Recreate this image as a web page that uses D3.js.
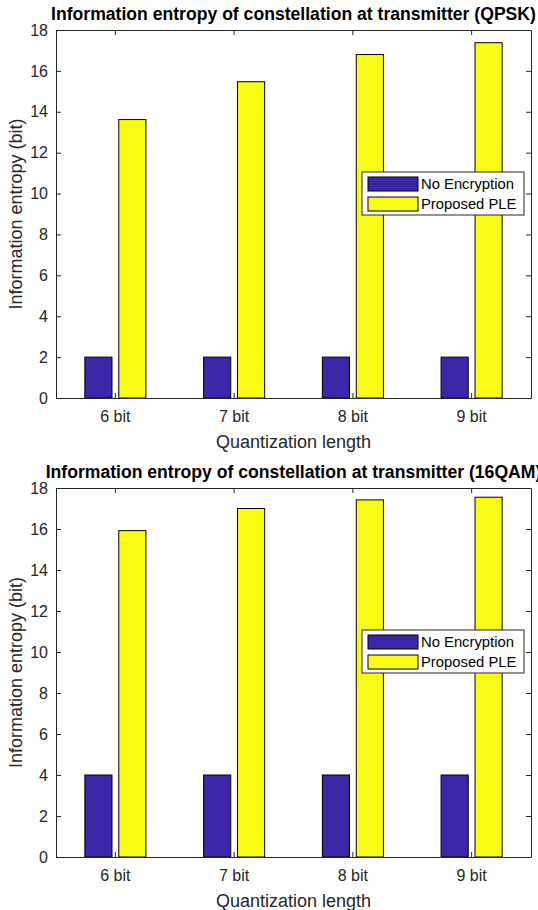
<!DOCTYPE html>
<html>
<head>
<meta charset="utf-8">
<script src="https://cdn.jsdelivr.net/npm/d3@7"></script>
<style>
html,body{margin:0;padding:0;background:#fff;}
svg{display:block;}
text{font-family:"Liberation Sans",Arial,Helvetica,sans-serif;}
</style>
</head>
<body>
<svg id="chart" width="538" height="910"></svg>
<script>
const categories = ["6 bit", "7 bit", "8 bit", "9 bit"];
const seriesNames = ["No Encryption", "Proposed PLE"];
const qpskNoEnc = [2, 2, 2, 2];
const qpskPLE = [13.62, 15.47, 16.8, 17.38];
const qamNoEnc = [4, 4, 4, 4];
const qamPLE = [15.92, 17.0, 17.42, 17.55];
const yTicks = [0, 2, 4, 6, 8, 10, 12, 14, 16, 18];
const titles = [
  "Information entropy of constellation at transmitter (QPSK)",
  "Information entropy of constellation at transmitter (16QAM)"
];
const xLabel = "Quantization length";
const yLabel = "Information entropy (bit)";
const colors = ["#3e26a8", "#f9fb15"];

const svg = d3.select("#chart");
const axisColor = "#262626";

function panel(top, bottom, title, series) {
  const left = 56, right = 531;
  const g = svg.append("g");
  const x = d3.scaleBand().domain(categories).range([left, right]).padding(0);
  const y = d3.scaleLinear().domain([0, 18]).range([bottom, top]);
  const step = x.bandwidth();
  const slot = step * 0.5714 / 2;
  const bw = slot * 0.8;

  // bars
  series.forEach((vals, si) => {
    g.selectAll(null).data(vals).enter().append("rect")
      .attr("x", (d, i) => x(categories[i]) + step / 2 + (si - 0.5) * slot - bw / 2)
      .attr("y", d => y(d))
      .attr("width", bw)
      .attr("height", d => y(0) - y(d))
      .attr("fill", colors[si])
      .attr("stroke", "#000")
      .attr("stroke-width", 1);
  });

  // axes
  const tickLen = 5;
  const yAxisL = d3.axisLeft(y).tickValues(yTicks).tickSizeInner(-tickLen).tickSizeOuter(0).tickPadding(8);
  const yAxisR = d3.axisRight(y).tickValues(yTicks).tickSizeInner(-tickLen).tickSizeOuter(0).tickFormat("");
  const xAxisB = d3.axisBottom(x).tickSizeInner(-tickLen).tickSizeOuter(0).tickPadding(13);
  const xAxisT = d3.axisTop(x).tickSizeInner(-tickLen).tickSizeOuter(0).tickFormat("");

  const styleAxis = sel => {
    sel.selectAll("path").attr("stroke", axisColor).attr("stroke-width", 1);
    sel.selectAll("line").attr("stroke", axisColor).attr("stroke-width", 1);
    sel.selectAll("text").attr("fill", axisColor).style("font-size", "16px")
      .style("font-family", '"Liberation Sans",Arial,sans-serif');
  };
  g.append("g").attr("transform", `translate(${left},0)`).call(yAxisL).call(styleAxis);
  g.append("g").attr("transform", `translate(${right},0)`).call(yAxisR).call(styleAxis);
  g.append("g").attr("transform", `translate(0,${bottom})`).call(xAxisB).call(styleAxis);
  g.append("g").attr("transform", `translate(0,${top})`).call(xAxisT).call(styleAxis);

  // title
  g.append("text").attr("x", (left + right) / 2).attr("y", top - 10)
    .attr("text-anchor", "middle").attr("fill", "#000")
    .style("font-size", "17.6px").style("font-weight", "bold").text(title);

  // x label
  g.append("text").attr("x", (left + right) / 2).attr("y", bottom + 50)
    .attr("text-anchor", "middle").attr("fill", axisColor)
    .style("font-size", "18px").text(xLabel);

  // y label
  g.append("text").attr("transform", `translate(22,${(top + bottom) / 2}) rotate(-90)`)
    .attr("text-anchor", "middle").attr("fill", axisColor)
    .style("font-size", "18px").text(yLabel);

  // legend
  const lx = 362, ly = top + 142;
  const lg = g.append("g");
  lg.append("rect").attr("x", lx).attr("y", ly).attr("width", 162).attr("height", 43)
    .attr("fill", "#fff").attr("stroke", axisColor).attr("stroke-width", 1);
  seriesNames.forEach((n, i) => {
    lg.append("rect").attr("x", lx + 6).attr("y", ly + 5 + i * 20).attr("width", 50).attr("height", 14)
      .attr("fill", colors[i]).attr("stroke", "#000").attr("stroke-width", 1);
    lg.append("text").attr("x", lx + 59).attr("y", ly + 17 + i * 20)
      .attr("fill", "#000").style("font-size", "14.8px").text(n);
  });
}

panel(30, 398, titles[0], [qpskNoEnc, qpskPLE]);
panel(488, 857, titles[1], [qamNoEnc, qamPLE]);
</script>
</body>
</html>
